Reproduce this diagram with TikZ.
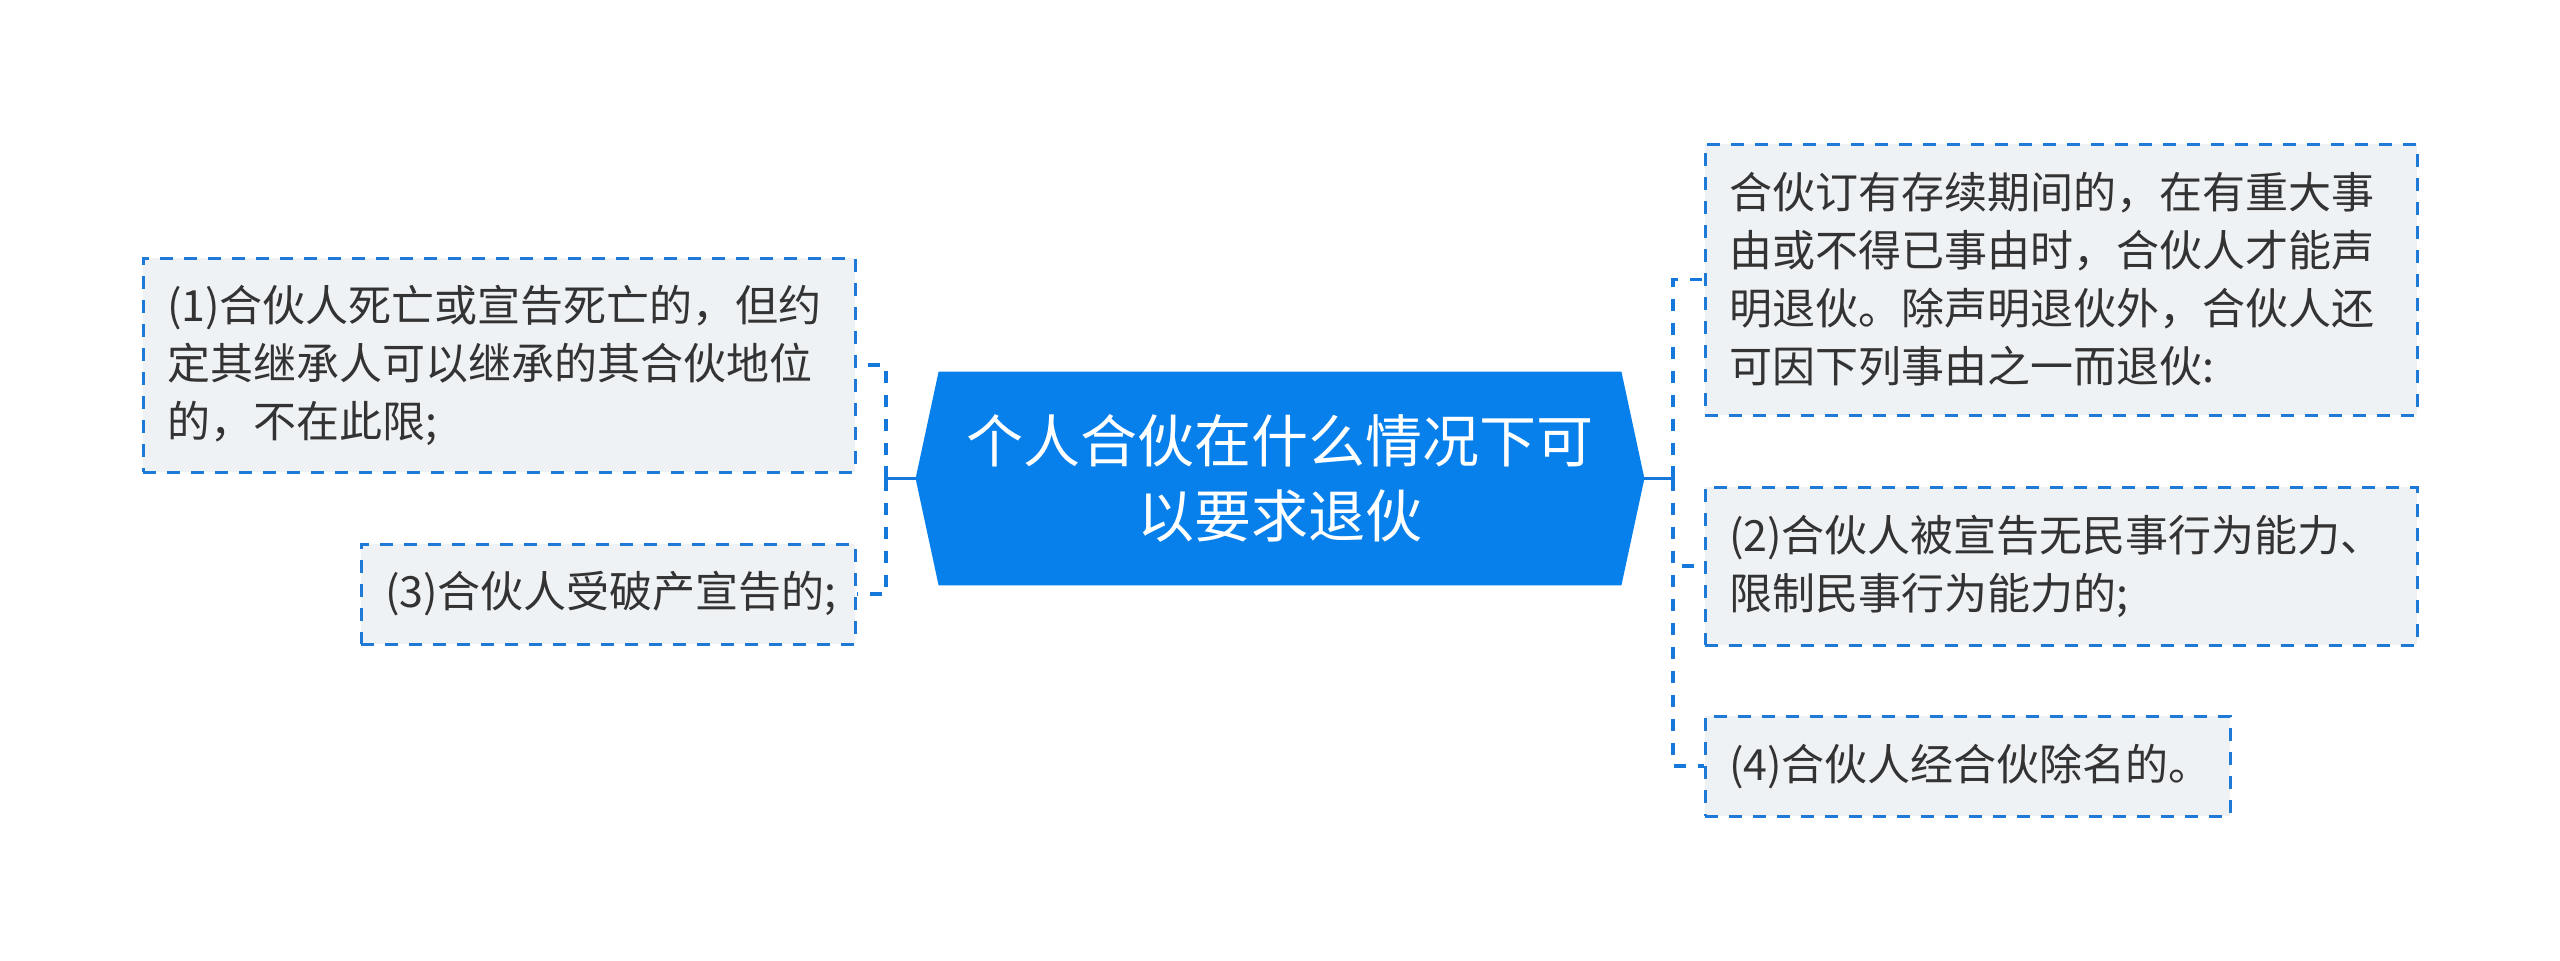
\documentclass[tikz,border=0pt]{standalone}
\usepackage{fontspec}
\newfontfamily\cjk{Noto Sans CJK SC}
\usetikzlibrary{calc,backgrounds}
\definecolor{mainblue}{HTML}{0780EC}
\definecolor{linkblue}{HTML}{1479DA}
\definecolor{boxfill}{HTML}{EFF2F5}
\definecolor{boxline}{HTML}{1F79D6}
\definecolor{txt}{HTML}{333333}
\begin{document}
\begin{tikzpicture}[x=0.5pt,y=-0.5pt,
  leaf/.style={draw=boxline, line width=1.5pt, dash pattern=on 6.5pt off 5.5pt,
    fill=boxfill, text=txt, font=\cjk\fontsize{21.5pt}{29pt}\selectfont,
    align=left, inner xsep=12pt, inner ysep=0pt, anchor=center},
  root/.style={text=white, font=\cjk\fontsize{28.5pt}{37.5pt}\selectfont,
    align=center, minimum width=341pt, minimum height=106.5pt, inner sep=0pt},
  link/.style={draw=linkblue, line width=1.6pt},
  linkdash/.style={link, dash pattern=on 6pt off 6pt}]
\useasboundingbox (0,0) rectangle (2560,960);

% root
\node[root] (c) at (1280,478.5) {个人合伙在什么情况下可\\以要求退伙};
\coordinate (cl) at ($(c.west)+(-23,0)$);
\coordinate (cr) at ($(c.east)+(23,0)$);
\begin{scope}[on background layer]
\fill[mainblue] (c.north west) -- (c.north east) -- (cr) -- (c.south east)
  -- (c.south west) -- (cl) -- cycle;
\end{scope}

% left leaves
\node[leaf, text width=332pt, minimum height=107pt] (l1) at (499,365)
  {(1)合伙人死亡或宣告死亡的，但约\\定其继承人可以继承的其合伙地位\\的，不在此限;};
\node[leaf, text width=223pt, minimum height=50pt] (l3) at (608,594)
  {(3)合伙人受破产宣告的;};

% right leaves
\node[leaf, text width=332pt, minimum height=135.5pt] (r1) at (2061,279.5)
  {合伙订有存续期间的，在有重大事\\由或不得已事由时，合伙人才能声\\明退伙。除声明退伙外，合伙人还\\可因下列事由之一而退伙:};
\node[leaf, text width=332pt, minimum height=79pt] (r2) at (2061,566)
  {(2)合伙人被宣告无民事行为能力、\\限制民事行为能力的;};
\node[leaf, text width=238.5pt, minimum height=50pt] (r4) at (1967.5,766)
  {(4)合伙人经合伙除名的。};

% junctions
\coordinate (jl) at (886,478.5);
\coordinate (jr) at (1673,478.5);

\draw[link] (cl) -- (jl);
\draw[link] ($(jl)+(0,-12.5)$) -- ($(jl)+(0,12.5)$);
\draw[link] (cr) -- (jr);
\draw[link] ($(jr)+(0,-12.5)$) -- ($(jr)+(0,12.5)$);

\draw[linkdash] (jl) |- (l1.east);
\draw[linkdash] (jl) |- (l3.east);
\draw[linkdash] (jr) |- (r1.west);
\draw[linkdash] (jr) |- (r2.west);
\draw[linkdash] (jr) |- (r4.west);
\end{tikzpicture}
\end{document}
